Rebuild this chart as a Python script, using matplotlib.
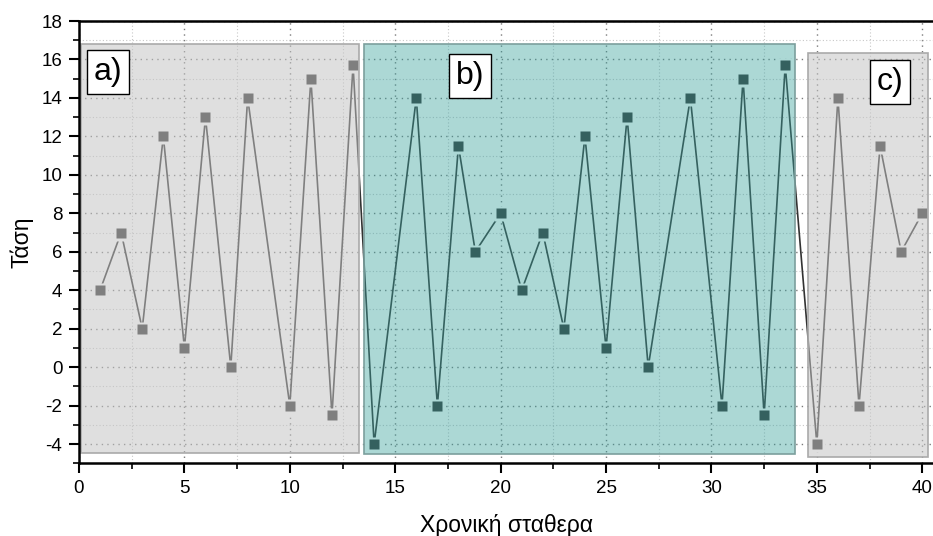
import matplotlib.pyplot as plt
from matplotlib.patches import Rectangle
from matplotlib.ticker import MultipleLocator

plt.rcParams['font.family'] = ['Liberation Sans', 'DejaVu Sans']
plt.rcParams['axes.unicode_minus'] = False

# Μετρήσεις τάσης ανά χρονική σταθερά
t = [1, 2, 3, 4, 5, 6, 7.2, 8, 10, 11, 12, 13,
     14, 16, 17, 18, 18.8, 20, 21, 22, 23, 24, 25, 26, 27, 29, 30.5, 31.5, 32.5, 33.5,
     35, 36, 37, 38, 39, 40]
v = [4, 7, 2, 12, 1, 13, 0, 14, -2, 15, -2.5, 15.7,
     -4, 14, -2, 11.5, 6, 8, 4, 7, 2, 12, 1, 13, 0, 14, -2, 15, -2.5, 15.7,
     -4, 14, -2, 11.5, 6, 8]

# Περιοχές: (x0, x1, y0, y1), ετικέτα, θέση ετικέτας
region_spans = [(0.1, 13.3, -4.45, 16.8), (13.53, 33.95, -4.5, 16.8), (34.6, 40.29, -4.68, 16.32)]
region_labels = ['a)', 'b)', 'c)']
label_pos = [(1.38, 15.35), (18.55, 15.15), (38.47, 14.83)]

fig = plt.figure(figsize=(9.33, 5.36), dpi=100)
ax = fig.add_axes([79 / 933, 0.1356, 1 - 79 / 933, 0.8252])
ax.set_axisbelow(True)

line_color = '#333333'
ax.plot(t, v, color=line_color, lw=1.2, zorder=2)
# λευκό περιθώριο γύρω από τα σημεία ώστε η γραμμή να σταματά λίγο πριν
ax.plot(t, v, ls='none', marker='s', ms=10.8, mfc='white', mec='none', zorder=2.1)
ax.plot(t, v, ls='none', marker='s', ms=7.4, mfc=line_color, mec='none', zorder=2.2)

# ημιδιαφανή ορθογώνια πάνω από τα δεδομένα
fills = [('#c4c4c4', 0.53, '#aaaaaa'), ('#39a29d', 0.42, '#7c9f9d'), ('#c4c4c4', 0.53, '#aaaaaa')]
for (x0, x1, y0, y1), (fc, a, ec) in zip(region_spans, fills):
    ax.add_patch(Rectangle((x0, y0), x1 - x0, y1 - y0, facecolor=fc, alpha=a,
                           edgecolor='none', zorder=3))
    ax.add_patch(Rectangle((x0, y0), x1 - x0, y1 - y0, facecolor='none',
                           edgecolor=ec, lw=1.2, zorder=3.1))

for lab, (lx, ly) in zip(region_labels, label_pos):
    ax.text(lx, ly, lab, fontsize=23, ha='center', va='center', zorder=6,
            bbox=dict(boxstyle='square,pad=0.22', facecolor='white', edgecolor='black', lw=1.0))

ax.set_xlim(0, 40.51)
ax.set_ylim(-5, 18)
ax.xaxis.set_major_locator(MultipleLocator(5))
ax.xaxis.set_minor_locator(MultipleLocator(2.5))
ax.yaxis.set_major_locator(MultipleLocator(2))
ax.yaxis.set_minor_locator(MultipleLocator(1))

ax.grid(True, which='major', color='#7a7a7a', ls=(0, (1, 3)), lw=1.0)
ax.grid(True, which='minor', color='#c8c8c8', ls=(0, (1, 2)), lw=0.8)

ax.tick_params(which='major', direction='out', length=7, width=1.5, labelsize=13.5, pad=5)
ax.tick_params(which='minor', direction='out', length=4, width=1.2)
for side in ['left', 'bottom', 'top']:
    ax.spines[side].set_linewidth(1.8)
    ax.spines[side].set_zorder(5)
ax.spines['right'].set_visible(False)

ax.set_xlabel('Χρονική σταθερα', fontsize=16.5, labelpad=12)
ax.set_ylabel('Τάση', fontsize=16.5, labelpad=6)

fig.savefig('out.png', dpi=100)
